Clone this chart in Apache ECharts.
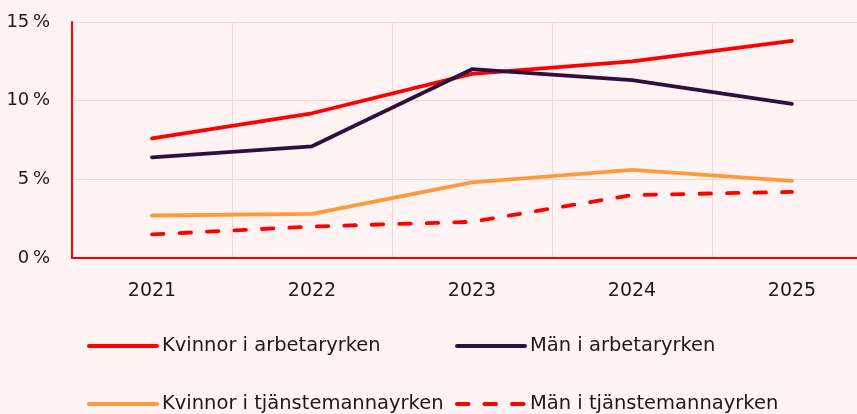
<!DOCTYPE html>
<html><head><meta charset="utf-8">
<script src="https://cdn.jsdelivr.net/npm/echarts@6/dist/echarts.min.js"></script>
<style>html,body{margin:0;padding:0;background:#fff3f3}#c{width:857px;height:414px}</style>
</head><body><div id="c"></div>
<script>
const years = ['2021','2022','2023','2024','2025'];
const kvinnorArbetar = [7.6, 9.2, 11.7, 12.5, 13.8];
const manArbetar = [6.4, 7.1, 12.0, 11.3, 9.8];
const kvinnorTjanst = [2.7, 2.8, 4.8, 5.6, 4.9];
const manTjanst = [1.5, 2.0, 2.3, 4.0, 4.2];
const names = ['Kvinnor i arbetaryrken','Män i arbetaryrken','Kvinnor i tjänstemannayrken','Män i tjänstemannayrken'];
const yTicks = [0,5,10,15];

const FONT = 'DejaVu Sans';
const RED = '#ff0000', PURPLE = '#2e0f3d', ORANGE = '#ff9a3c';
const DASH = [11.5, 16];
const chart = echarts.init(document.getElementById('c'));
function mkLegend(name, left, top, dashed){
  return {show:true, data:[name], left:left, top:top, padding:0, itemWidth:68, itemHeight:14, itemGap:0,
    itemStyle:{opacity:0},
    lineStyle:{width:4, type: dashed ? DASH : 'solid', cap:'round'},
    textStyle:{fontFamily:FONT, fontSize:19.5, color:'#1a1a1a', padding:[0,0,0,0]}, selectedMode:false};
}
function mkLine(name, data, color, dashed){
  return {name:name, type:'line', data:data, symbol:'none', smooth:false,
    lineStyle:{color:color, width:3.8, cap:'round', join:'round', type: dashed ? DASH : 'solid'},
    itemStyle:{color:color}};
}
chart.setOption({
  backgroundColor:'#fff3f3',
  animation:false,
  grid:{left:72, width:800, top:22, bottom:156, containLabel:false, outerBoundsMode:'none'},
  legend:[
    mkLegend(names[0], 87, 336, false),
    mkLegend(names[1], 455, 336, false),
    mkLegend(names[2], 87, 394, false),
    mkLegend(names[3], 455, 394, true)
  ],
  xAxis:{type:'category', data:years, boundaryGap:true,
    axisLine:{show:true, lineStyle:{color:RED, width:2}},
    axisTick:{show:false},
    axisLabel:{fontFamily:FONT, fontSize:19, color:'#1a1a1a', margin:24},
    splitLine:{show:true, lineStyle:{color:'#fbd3d3', width:1}}
  },
  yAxis:{type:'value', min:0, max:15, interval:5,
    axisLine:{show:true, lineStyle:{color:RED, width:2}},
    axisTick:{show:false},
    axisLabel:{fontFamily:FONT, fontSize:18, color:'#1a1a1a', margin:22, formatter: v => yTicks.includes(v) ? v + '\u2009%' : ''},
    splitLine:{show:true, lineStyle:{color:'#fbd3d3', width:1}}
  },
  series:[
    mkLine(names[0], kvinnorArbetar, RED, false),
    mkLine(names[1], manArbetar, PURPLE, false),
    mkLine(names[2], kvinnorTjanst, ORANGE, false),
    mkLine(names[3], manTjanst, RED, true)
  ]
});
</script></body></html>
